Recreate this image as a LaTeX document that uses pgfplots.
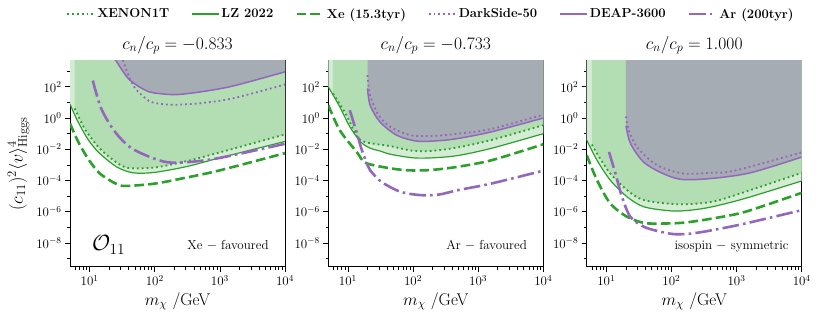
\RequirePackage{fix-cm}
\documentclass[border=0pt]{standalone}
\usepackage{pgfplots}
\usepackage{pgfplotstable}
\pgfplotsset{compat=1.18}

\definecolor{cgreen}{RGB}{44,160,44}
\definecolor{cpurple}{RGB}{148,103,189}
\definecolor{flight}{RGB}{213,236,212}
\definecolor{fmed}{RGB}{179,221,178}
\definecolor{fgray}{RGB}{166,172,179}
\newcommand{\fsz}[1]{\fontsize{#1}{#1}\selectfont}

% ---- panel 1 (c_n/c_p = -0.833) ----
\pgfplotstableread[row sep=\\]{x y\\ 5.9 4.17\\ 7.2 0.71\\ 8.9 0.141\\ 14.3 1.12e-2\\ 26 1.41e-3\\ 39.8 6.31e-4\\ 100 6.76e-4\\ 316 1.78e-3\\ 1000 6.31e-3\\ 10000 8.91e-2\\}\xoneA
\pgfplotstableread[row sep=\\]{x y\\ 5 7.94\\ 6.3 0.89\\ 8.9 6.31e-2\\ 11.2 1.66e-2\\ 14.3 5.37e-3\\ 26 7.41e-4\\ 46.8 3.09e-4\\ 100 3.31e-4\\ 316 7.94e-4\\ 1000 2.82e-3\\ 10000 3.16e-2\\}\lzA
\pgfplotstableread[row sep=\\]{x y\\ 5 0.447\\ 6.3 5.01e-2\\ 7.87 8.71e-3\\ 10 1.78e-3\\ 14.3 2.82e-4\\ 25.1 6.31e-5\\ 35.5 4.47e-5\\ 100 6.31e-5\\ 316 1.58e-4\\ 1000 4.47e-4\\ 10000 5.62e-3\\}\xeA
\pgfplotstableread[row sep=\\]{x y\\ 30.2 1e4\\ 33.1 3981\\ 39.8 501\\ 50.1 79.4\\ 81.3 12.6\\ 126 7.94\\ 209 7.08\\ 501 8.91\\ 1585 18.2\\ 10000 141\\}\dsA
\pgfplotstableread[row sep=\\]{x y\\ 23.4 7943\\ 26 3981\\ 37.2 437\\ 44.7 209\\ 60.3 89.1\\ 81.3 47.9\\ 100 39.8\\ 209 31.6\\ 513 47.9\\ 1585 112\\ 10000 912\\}\deapA
\pgfplotstableread[row sep=\\]{x y\\ 11.2 251\\ 15.1 3.98\\ 24.5 0.132\\ 44.7 1.12e-2\\ 115 2.0e-3\\ 224 1.38e-3\\ 871 2.51e-3\\ 10000 2.24e-2\\}\arA

% ---- panel 2 (c_n/c_p = -0.733) ----
\pgfplotstableread[row sep=\\]{x y\\ 5.9 37.2\\ 7.6 7.08\\ 9.5 1.55\\ 11.5 0.282\\ 13.6 7.08e-2\\ 15.8 3.8e-2\\ 20 2.63e-2\\ 28.2 2.09e-2\\ 44.7 1.58e-2\\ 100 7.94e-3\\ 200 7.94e-3\\ 490 1.32e-2\\ 1622 3.98e-2\\ 10000 0.347\\}\xoneB
\pgfplotstableread[row sep=\\]{x y\\ 5 100\\ 7.5 5.25\\ 10.7 0.275\\ 15.5 3.16e-2\\ 20 1.41e-2\\ 24.5 1.0e-2\\ 31.6 7.59e-3\\ 44.7 4.79e-3\\ 100 2.82e-3\\ 200 2.82e-3\\ 490 3.98e-3\\ 1622 1.17e-2\\ 10000 0.1\\}\lzB
\pgfplotstableread[row sep=\\]{x y\\ 5 6.76\\ 7.5 0.166\\ 13.8 6.31e-3\\ 17.8 1.5e-3\\ 28.2 8.5e-4\\ 56.2 5.25e-4\\ 100 4.37e-4\\ 200 4.79e-4\\ 490 7.59e-4\\ 1622 2.0e-3\\ 10000 2.09e-2\\}\xeB
\pgfplotstableread[row sep=\\]{x y\\ 20 562\\ 21.9 29.5\\ 29.5 1.55\\ 44.7 0.275\\ 91.2 7.94e-2\\ 209 7.24e-2\\ 501 0.1\\ 1585 0.2\\ 10000 1.66\\}\dsB
\pgfplotstableread[row sep=\\]{x y\\ 20 79.4\\ 21.9 6.76\\ 30.9 0.575\\ 56.2 7.94e-2\\ 115 3.31e-2\\ 251 3.55e-2\\ 490 4.9e-2\\ 1622 0.132\\ 10000 1.0\\}\deapB
\pgfplotstableread[row sep=\\]{x y\\ 10.7 3.16\\ 13.8 0.1\\ 16.2 1.0e-2\\ 19.1 1.58e-3\\ 21.9 4.57e-4\\ 28.2 1.41e-4\\ 35.5 6.46e-5\\ 64.6 1.86e-5\\ 132 1.15e-5\\ 251 1.26e-5\\ 490 2.4e-5\\ 1622 6.46e-5\\ 10000 4.27e-4\\}\arB

% ---- panel 3 (c_n/c_p = 1.000) ----
\pgfplotstableread[row sep=\\]{x y\\ 6.0 2.0e-2\\ 7.9 2.82e-3\\ 11.5 2.82e-4\\ 20.9 2.4e-5\\ 38 5.5e-6\\ 126 3.02e-6\\ 417 4.27e-6\\ 1349 1.86e-5\\ 10000 3.09e-4\\}\xoneC
\pgfplotstableread[row sep=\\]{x y\\ 5 3.8e-2\\ 7.2 2.0e-3\\ 11.5 1.05e-4\\ 20.9 8.91e-6\\ 38 2.04e-6\\ 100 1.12e-6\\ 200 1.26e-6\\ 417 2.04e-6\\ 1349 7.08e-6\\ 10000 9.33e-5\\}\lzC
\pgfplotstableread[row sep=\\]{x y\\ 5 4.17e-3\\ 7.2 1.05e-4\\ 11.5 3.39e-6\\ 20.9 4.68e-7\\ 38 1.91e-7\\ 69.2 1.74e-7\\ 158 2.0e-7\\ 417 3.63e-7\\ 1349 9.77e-7\\ 10000 1.62e-5\\}\xeC
\pgfplotstableread[row sep=\\]{x y\\ 20 1.26\\ 22.4 0.141\\ 30.2 1.26e-2\\ 58.9 1.0e-3\\ 151 2.82e-4\\ 417 3.16e-4\\ 912 4.17e-4\\ 10000 6.31e-3\\}\dsC
\pgfplotstableread[row sep=\\]{x y\\ 20 0.316\\ 22.4 3.98e-2\\ 26.3 1.0e-2\\ 38 1.41e-3\\ 69.2 3.16e-4\\ 141 1.17e-4\\ 417 1.35e-4\\ 1660 3.16e-4\\ 10000 3.16e-3\\}\deapC
\pgfplotstableread[row sep=\\]{x y\\ 11 6.76e-3\\ 13.8 2.82e-4\\ 17.4 8.91e-6\\ 23.4 4.68e-7\\ 38 1.07e-7\\ 69.2 5.13e-8\\ 112 3.63e-8\\ 200 3.98e-8\\ 417 6.46e-8\\ 1349 1.74e-7\\ 10000 1.26e-6\\}\arC

\tikzset{
  lzs/.style={cgreen, line width=1.2pt, smooth},
  xon/.style={cgreen, line width=1.8pt, dash pattern=on 1.8pt off 3.0pt, smooth},
  xed/.style={cgreen, line width=2.6pt, dash pattern=on 9.6pt off 4.2pt, smooth},
  dss/.style={cpurple, line width=1.8pt, dash pattern=on 1.8pt off 3.0pt, smooth},
  dep/.style={cpurple, line width=1.5pt, smooth},
  ard/.style={cpurple, line width=2.6pt, dash pattern=on 16.6pt off 4.2pt on 2.6pt off 4.2pt, smooth},
}

\begin{document}
\begin{tikzpicture}
\useasboundingbox (0,0) rectangle (830pt,-315pt);

% ---------------- Panel 1 ----------------
\begin{axis}[
    scale only axis, width=215pt, height=206pt, anchor=south west, at={(70pt,-266.7pt)},
    xmode=log, ymode=log, xmin=5, xmax=1e4, ymin=3e-10, ymax=4.7e3,
    xtick={10,100,1000,10000},
    minor xtick={6,7,8,9,20,30,40,50,60,70,80,90,200,300,400,500,600,700,800,900,2000,3000,4000,5000,6000,7000,8000,9000},
    ytick={1e-8,1e-6,1e-4,1e-2,1,1e2},
    minor ytick={1e-9,1e-7,1e-5,1e-3,1e-1,10,1e3},
    tick pos=left, tick align=outside,
    major tick length=5pt, minor tick length=2.8pt,
    tick style={black, line width=0.7pt},
    axis line style={line width=0.7pt},
    tick label style={font=\fsz{13}},
    label style={font=\fsz{17}},
    ylabel style={font=\fsz{18}},
    title style={font=\fsz{17.5}, yshift=-3pt},
    xlabel={$m_\chi$ /GeV},
    title={$c_n/c_p = -0.833$},
    ylabel={$(c_{11})^2\langle v\rangle^4_{\mathrm{Higgs}}$}]
\addplot[draw=none, smooth, forget plot, fill=flight] table {\lzA} -- (axis cs:10000,1e4) -- (axis cs:5,1e4) -- cycle;
\addplot[draw=none, smooth, forget plot, fill=fmed] table {\xoneA} -- (axis cs:10000,1e4) -- (axis cs:5.9,1e4) -- cycle;
\addplot[draw=none, smooth, forget plot, fill=fgray] table {\deapA} -- (axis cs:10000,1e4) -- (axis cs:23.4,1e4) -- cycle;
\addplot[xon] table {\xoneA};
\addplot[lzs] table {\lzA};
\addplot[xed] table {\xeA};
\addplot[dss] table {\dsA};
\addplot[dep] table {\deapA};
\addplot[ard] table {\arA};
\node[font=\fsz{22}] at (axis description cs:0.18,0.105) {$\mathcal{O}_{11}$};
\node[font=\fsz{13}, anchor=base east] at (axis description cs:0.94,0.085) {Xe $-$ favoured};
\end{axis}

% ---------------- Panel 2 ----------------
\begin{axis}[
    scale only axis, width=215pt, height=206pt, anchor=south west, at={(328.3pt,-266.7pt)},
    xmode=log, ymode=log, xmin=5, xmax=1e4, ymin=3e-10, ymax=4.7e3,
    xtick={10,100,1000,10000},
    minor xtick={6,7,8,9,20,30,40,50,60,70,80,90,200,300,400,500,600,700,800,900,2000,3000,4000,5000,6000,7000,8000,9000},
    ytick={1e-8,1e-6,1e-4,1e-2,1,1e2},
    minor ytick={1e-9,1e-7,1e-5,1e-3,1e-1,10,1e3},
    tick pos=left, tick align=outside,
    major tick length=5pt, minor tick length=2.8pt,
    tick style={black, line width=0.7pt},
    axis line style={line width=0.7pt},
    tick label style={font=\fsz{13}},
    label style={font=\fsz{17}},
    title style={font=\fsz{17.5}, yshift=-3pt},
    xlabel={$m_\chi$ /GeV},
    title={$c_n/c_p = -0.733$},
    legend image code/.code={\draw[#1] (0pt,0pt) -- (27pt,0pt);},
    legend style={at={(0.478,1.227)}, anchor=center, draw=none, fill=none,
    font=\fsz{13}\bfseries, legend columns=6,
    /tikz/every even column/.append style={column sep=20pt}}]
\addplot[draw=none, smooth, forget plot, fill=flight] table {\lzB} -- (axis cs:10000,1e4) -- (axis cs:5,1e4) -- cycle;
\addplot[draw=none, smooth, forget plot, fill=fmed] table {\xoneB} -- (axis cs:10000,1e4) -- (axis cs:5.9,1e4) -- cycle;
\addplot[draw=none, smooth, forget plot, fill=fgray] table {\deapB} -- (axis cs:10000,1e4) -- (axis cs:20,1e4) -- cycle;
\addplot[xon] table {\xoneB};
\addlegendentry{XENON1T}
\addplot[lzs] table {\lzB};
\addlegendentry{LZ 2022}
\addplot[xed] table {\xeB};
\addlegendentry{Xe (15.3tyr)}
\addplot[dss] table {\dsB};
\addlegendentry{DarkSide-50}
\addplot[dep] table {\deapB};
\addlegendentry{DEAP-3600}
\addplot[ard] table {\arB};
\addlegendentry{Ar (200tyr)}
\node[font=\fsz{13}, anchor=base east] at (axis description cs:0.94,0.085) {Ar $-$ favoured};
\end{axis}

% ---------------- Panel 3 ----------------
\begin{axis}[
    scale only axis, width=215pt, height=206pt, anchor=south west, at={(586.7pt,-266.7pt)},
    xmode=log, ymode=log, xmin=5, xmax=1e4, ymin=3e-10, ymax=4.7e3,
    xtick={10,100,1000,10000},
    minor xtick={6,7,8,9,20,30,40,50,60,70,80,90,200,300,400,500,600,700,800,900,2000,3000,4000,5000,6000,7000,8000,9000},
    ytick={1e-8,1e-6,1e-4,1e-2,1,1e2},
    minor ytick={1e-9,1e-7,1e-5,1e-3,1e-1,10,1e3},
    tick pos=left, tick align=outside,
    major tick length=5pt, minor tick length=2.8pt,
    tick style={black, line width=0.7pt},
    axis line style={line width=0.7pt},
    tick label style={font=\fsz{13}},
    label style={font=\fsz{17}},
    title style={font=\fsz{17.5}, yshift=-3pt},
    xlabel={$m_\chi$ /GeV},
    title={$c_n/c_p = 1.000$}]
\addplot[draw=none, smooth, forget plot, fill=flight] table {\lzC} -- (axis cs:10000,1e4) -- (axis cs:5,1e4) -- cycle;
\addplot[draw=none, smooth, forget plot, fill=fmed] table {\xoneC} -- (axis cs:10000,1e4) -- (axis cs:6,1e4) -- cycle;
\addplot[draw=none, smooth, forget plot, fill=fgray] table {\deapC} -- (axis cs:10000,1e4) -- (axis cs:20,1e4) -- cycle;
\addplot[xon] table {\xoneC};
\addplot[lzs] table {\lzC};
\addplot[xed] table {\xeC};
\addplot[dss] table {\dsC};
\addplot[dep] table {\deapC};
\addplot[ard] table {\arC};
\node[font=\fsz{13}, anchor=base east] at (axis description cs:0.955,0.085) {isospin $-$ symmetric};
\end{axis}
\end{tikzpicture}
\end{document}
